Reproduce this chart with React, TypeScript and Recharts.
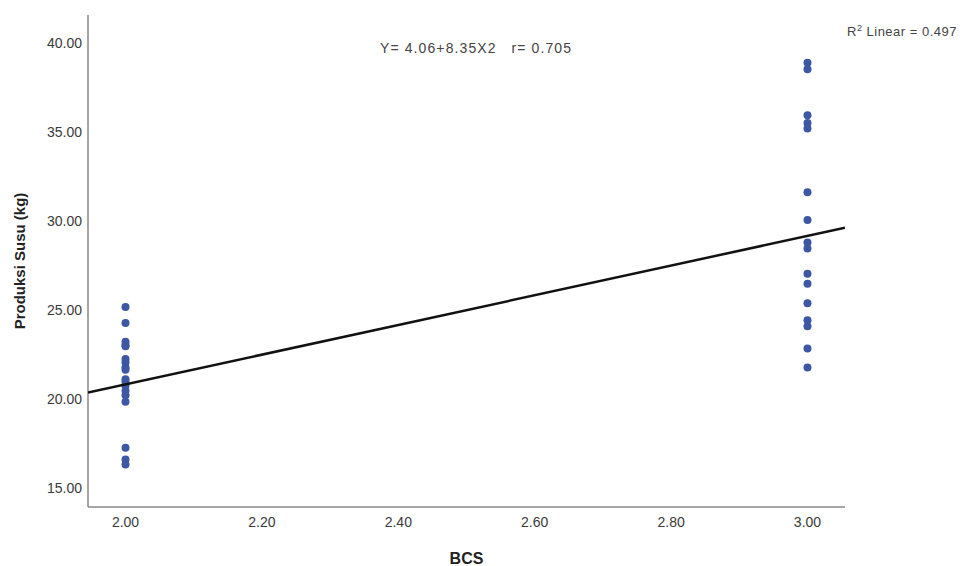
import { ScatterChart, Scatter, XAxis, YAxis, Label } from "recharts";

// BCS = 2.00 group
const bcs2Produksi = [
  25.16, 24.27, 23.22, 23.03, 22.96, 22.24, 22.05, 21.77, 21.64,
  21.11, 20.97, 20.74, 20.46, 20.21, 19.84, 17.26, 16.6, 16.32,
];

// BCS = 3.00 group
const bcs3Produksi = [
  38.89, 38.52, 35.94, 35.5, 35.19, 31.61, 30.05, 28.79, 28.45,
  27.04, 26.47, 25.38, 24.42, 24.09, 22.84, 21.77,
];

const xTicks = [2.0, 2.2, 2.4, 2.6, 2.8, 3.0];
const yTicks = [15, 20, 25, 30, 35, 40];

// fit line end points, read at the plot edges
const fitBcs = [1.945, 3.055];
const fitProduksi = [20.36, 29.62];

const points = [
  ...bcs2Produksi.map((v) => ({ bcs: 2, susu: v })),
  ...bcs3Produksi.map((v) => ({ bcs: 3, susu: v })),
];
const fitLine = fitBcs.map((b, i) => ({ bcs: b, susu: fitProduksi[i] }));

const FONT = "'Liberation Sans', Arial, sans-serif";

const Dot = (props: any) => (
  <circle cx={props.cx} cy={props.cy} r={4} fill="#3d57a4" />
);

export default function App() {
  return (
    <div style={{ position: "relative", width: 963, height: 566, fontFamily: FONT, background: "#fff" }}>
      <style>{`body{margin:0}`}</style>
      <ScatterChart width={963} height={566} margin={{ top: 15, right: 118, bottom: 0, left: 28 }}>
        <XAxis
          type="number"
          dataKey="bcs"
          domain={[1.945, 3.055]}
          ticks={xTicks}
          tickFormatter={(v: number) => v.toFixed(2)}
          tickLine={false}
          tickSize={6}
          tickMargin={4}
          height={59}
          axisLine={{ stroke: "#888", strokeWidth: 1.5 }}
          tick={{ fill: "#3a3a3a", fontSize: 14, fontFamily: FONT }}
          allowDataOverflow
        >
          <Label
            value="BCS"
            position="insideBottom"
            offset={2}
            style={{ fontWeight: "bold", fontSize: 16, fill: "#222", fontFamily: FONT }}
          />
        </XAxis>
        <YAxis
          type="number"
          dataKey="susu"
          domain={[13.93, 41.57]}
          ticks={yTicks}
          tickFormatter={(v: number) => v.toFixed(2)}
          tickLine={false}
          tickSize={4}
          tickMargin={2}
          width={60}
          axisLine={{ stroke: "#888", strokeWidth: 1.5 }}
          tick={{ fill: "#3a3a3a", fontSize: 14, fontFamily: FONT }}
          allowDataOverflow
        >
          <Label
            value="Produksi Susu (kg)"
            angle={-90}
            position="insideLeft"
            offset={-8}
            style={{ textAnchor: "middle", fontWeight: "bold", fontSize: 15, fill: "#222", fontFamily: FONT }}
          />
        </YAxis>
        <Scatter data={points} shape={Dot} isAnimationActive={false} />
        <Scatter
          data={fitLine}
          line={{ stroke: "#111", strokeWidth: 2.5 }}
          shape={() => <g />}
          isAnimationActive={false}
        />
      </ScatterChart>
      <div style={{ position: "absolute", left: 380, top: 40, fontSize: 14, letterSpacing: 1.1, color: "#444", whiteSpace: "pre" }}>
        {"Y= 4.06+8.35X2   r= 0.705"}
      </div>
      <div style={{ position: "absolute", left: 847, top: 23, fontSize: 13, letterSpacing: 0.5, color: "#444", whiteSpace: "pre" }}>
        R<sup style={{ fontSize: 9 }}>2</sup> Linear = 0.497
      </div>
    </div>
  );
}
